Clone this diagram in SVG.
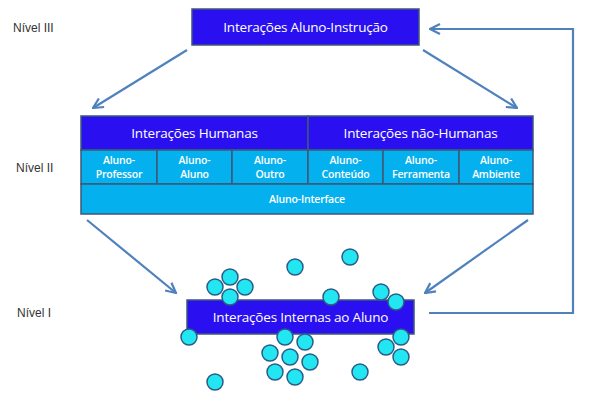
<svg xmlns="http://www.w3.org/2000/svg" width="605" height="403" viewBox="0 0 605 403">
<defs>
<marker id="ah" viewBox="0 0 12 12" refX="11" refY="6" markerWidth="12" markerHeight="12" markerUnits="userSpaceOnUse" orient="auto">
<path d="M1,1 L11,6 L1,11" fill="none" stroke="#4f81bd" stroke-width="2.2"/>
</marker>
<style>
.lvl{font-family:"Liberation Sans",Arial,sans-serif;font-size:12px;fill:#333}
.dark{fill:#2a10f0;stroke:#3d5878;stroke-width:1.5}
.cell{fill:#05b0ee;stroke:#3d5878;stroke-width:1.5}
.t1{font-family:"Open Sans","Liberation Sans",sans-serif;font-size:13.5px;fill:#fff;text-anchor:middle;letter-spacing:-0.2px}
.t2{font-family:"Open Sans","Liberation Sans",sans-serif;font-size:10.5px;font-weight:600;fill:#fff;text-anchor:middle;letter-spacing:-0.2px}
.c{fill:#22e6f2;stroke:#2c5b86;stroke-width:1.5}
.con{fill:none;stroke:#4f81bd;stroke-width:2.2;marker-end:url(#ah)}
</style>
</defs>
<g id="labels">
<text class="lvl" x="13" y="32">Nível III</text>
<text class="lvl" x="16" y="172">Nível II</text>
<text class="lvl" x="17" y="317">Nível I</text>
</g>
<g id="connectors">
<line class="con" x1="187" y1="50" x2="93" y2="108"/>
<line class="con" x1="423" y1="50" x2="517" y2="108"/>
<line class="con" x1="87" y1="220" x2="176" y2="293"/>
<line class="con" x1="528" y1="220" x2="425" y2="293"/>
<polyline class="con" points="429,313 573,313 573,29 430,29"/>
</g>
<g id="nivel3">
<rect class="dark" x="192" y="9" width="227" height="36"/>
<text class="t1" x="305.5" y="32" font-size="14.5">Interações Aluno-Instrução</text>
</g>
<g id="nivel2">
<rect class="dark" x="81" y="116" width="227" height="34"/>
<rect class="dark" x="308" y="116" width="225" height="34"/>
<text class="t1" x="194.5" y="138">Interações Humanas</text>
<text class="t1" x="420.5" y="138">Interações não-Humanas</text>
<rect class="cell" x="81" y="150" width="76" height="34"/>
<rect class="cell" x="157" y="150" width="75" height="34"/>
<rect class="cell" x="232" y="150" width="76" height="34"/>
<rect class="cell" x="308" y="150" width="75" height="34"/>
<rect class="cell" x="383" y="150" width="76" height="34"/>
<rect class="cell" x="459" y="150" width="74" height="34"/>
<rect class="cell" x="81" y="184" width="452" height="30"/>
<text class="t2" x="119" y="164">Aluno-<tspan x="119" dy="14">Professor</tspan></text>
<text class="t2" x="194.5" y="164">Aluno-<tspan x="194.5" dy="14">Aluno</tspan></text>
<text class="t2" x="270" y="164">Aluno-<tspan x="270" dy="14">Outro</tspan></text>
<text class="t2" x="345.5" y="164">Aluno-<tspan x="345.5" dy="14">Conteúdo</tspan></text>
<text class="t2" x="421" y="164">Aluno-<tspan x="421" dy="14">Ferramenta</tspan></text>
<text class="t2" x="496" y="164">Aluno-<tspan x="496" dy="14">Ambiente</tspan></text>
<text class="t2" x="307" y="203" font-size="11">Aluno-Interface</text>
</g>
<g id="nivel1">
<rect class="dark" x="187" y="300" width="227" height="34"/>
<text class="t1" x="300.5" y="322" font-size="14.5">Interações Internas ao Aluno</text>
</g>
<g id="circles">
<circle class="c" cx="295" cy="267" r="8"/>
<circle class="c" cx="350" cy="257" r="8"/>
<circle class="c" cx="230" cy="277" r="8"/>
<circle class="c" cx="215" cy="287" r="8"/>
<circle class="c" cx="245" cy="287" r="8"/>
<circle class="c" cx="230" cy="297" r="8"/>
<circle class="c" cx="331" cy="297" r="8"/>
<circle class="c" cx="381" cy="292" r="8"/>
<circle class="c" cx="396" cy="302" r="8"/>
<circle class="c" cx="189" cy="337" r="8"/>
<circle class="c" cx="285" cy="337" r="8"/>
<circle class="c" cx="305" cy="342" r="8"/>
<circle class="c" cx="270" cy="353" r="8"/>
<circle class="c" cx="290" cy="357" r="8"/>
<circle class="c" cx="310" cy="362" r="8"/>
<circle class="c" cx="275" cy="372" r="8"/>
<circle class="c" cx="295" cy="377" r="8"/>
<circle class="c" cx="360" cy="372" r="8"/>
<circle class="c" cx="215" cy="382" r="8"/>
<circle class="c" cx="401" cy="337" r="8"/>
<circle class="c" cx="386" cy="347" r="8"/>
<circle class="c" cx="401" cy="357" r="8"/>
</g>
</svg>
